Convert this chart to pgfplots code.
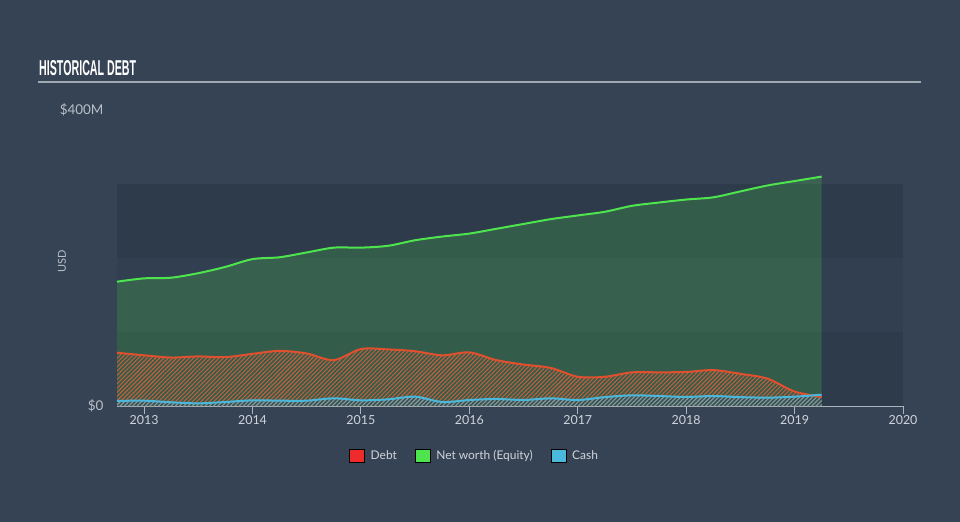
\documentclass[border=0pt]{standalone}
\usepackage{graphicx}
\usepackage{pgfplots}
\usepackage{pgfplotstable}
\pgfplotsset{compat=1.18}
\usepackage{fontspec}
\setmainfont{Lato}
\newfontfamily\titlefont{Liberation Sans}
\usetikzlibrary{patterns.meta}
\definecolor{bg}{HTML}{354354}
\definecolor{banddark}{HTML}{2E3B4B}
\definecolor{bandmid}{HTML}{323F50}
\definecolor{axiscol}{HTML}{AAB4BE}
\definecolor{ticktext}{HTML}{D0D4DA}
\definecolor{ylabtext}{HTML}{BAC0C8}
\definecolor{nwgreen}{HTML}{4EE44E}
\definecolor{debtline}{HTML}{E0502E}
\definecolor{debthatch}{HTML}{C0603C}
\definecolor{cashline}{HTML}{4AB8DC}
\definecolor{cashhatch}{HTML}{7A9AAA}
\definecolor{legred}{HTML}{EE2A2A}
\definecolor{leggreen}{HTML}{4EE44E}
\definecolor{legblue}{HTML}{4AB9DD}
\definecolor{titleline}{HTML}{A0A8B0}

\pgfplotstableread{
t nw debt cash
2012.75 168 72 6.8
2013.00 172.5 68.5 7.2
2013.25 173.4 65.5 5.0
2013.50 179.5 67 3.6
2013.75 188 66 5.4
2014.00 198.5 70.5 7.7
2014.25 201 74.5 7.2
2014.50 207.5 71 7.2
2014.75 214 62 10.4
2015.00 214 77 7.7
2015.25 216.5 76.5 9.0
2015.50 224 74 12.6
2015.75 229 68.5 5.4
2016.00 233 72.5 8.1
2016.25 239.5 62 9.5
2016.50 246 56 8.1
2016.75 252.5 51.5 10.4
2017.00 257.5 39.5 8.1
2017.25 262.5 39.5 12
2017.50 270.5 45.5 14.4
2017.75 275 45.5 13.5
2018.00 279 46 12.2
2018.25 282 48.5 13.5
2018.50 290 43.5 12
2018.75 298 37 11.3
2019.00 304 19.5 12.6
2019.25 310 12.2 15.3
}\data

\begin{document}
\begin{tikzpicture}
\fill[bg] (-117bp,-116bp) rectangle (843bp,406bp);
\begin{axis}[
  at={(0,0)}, anchor=south west, scale only axis,
  width=786bp, height=296bp,
  xmin=2012.75, xmax=2020, ymin=0, ymax=400,
  axis x line=bottom, axis y line=left,
  x axis line style={draw=axiscol, line width=1bp, -},
  y axis line style={draw=none},
  xtick={2013,2014,2015,2016,2017,2018,2019,2020},
  ytick={0,400}, yticklabels={\$0,\$400M},
  tick align=outside, major tick length=8bp,
  xtick style={draw=axiscol, line width=1bp},
  ytick style={draw=none},
  xticklabel style={font=\fontsize{12.5}{14}\selectfont, text=ticktext, yshift=2bp,
    /pgf/number format/1000 sep=, /pgf/number format/assume math mode=true},
  yticklabel style={font=\fontsize{13.5}{15}\selectfont, text=ylabtext, anchor=east, xshift=-2bp},
  ylabel={USD},
  ylabel style={at={(axis description cs:-0.07,0.49)}, anchor=center,
    font=\fontsize{11}{13}\selectfont, text=ylabtext},
  legend style={at={(axis description cs:0.455,-0.169)}, anchor=center,
    draw=none, fill=none, legend columns=3,
    font=\fontsize{12}{14}\selectfont, text=ticktext,
    /tikz/every odd column/.append style={column sep=4bp},
    /tikz/every even column/.append style={column sep=16bp}},
  legend image code/.code={\fill[#1] (0bp,-6.5bp) rectangle (15bp,6.5bp);},
  clip=false,
]
% background bands
\fill[banddark] (axis cs:2012.75,0) rectangle (axis cs:2020,100);
\fill[bandmid] (axis cs:2012.75,100) rectangle (axis cs:2020,200);
\fill[banddark] (axis cs:2012.75,200) rectangle (axis cs:2020,300);

% net worth area
\addplot[forget plot, draw=none, fill=nwgreen, fill opacity=0.2, smooth]
  table[x=t, y=nw] {\data} \closedcycle;
% debt hatch
\addplot[forget plot, draw=none, smooth,
  pattern={Lines[angle=45, distance=3bp, line width=1.1bp]}, pattern color=debthatch]
  table[x=t, y=debt] {\data} \closedcycle;
% cash hatch
\addplot[forget plot, draw=none, smooth, fill=bg, fill opacity=0.3]
  table[x=t, y=cash] {\data} \closedcycle;
\addplot[forget plot, draw=none, smooth,
  pattern={Lines[angle=45, distance=3bp, line width=1.1bp]}, pattern color=cashhatch]
  table[x=t, y=cash] {\data} \closedcycle;
% lines
\addplot[forget plot, nwgreen, line width=2bp, smooth] table[x=t, y=nw] {\data};
\addplot[forget plot, debtline, line width=2bp, smooth] table[x=t, y=debt] {\data};
\addplot[forget plot, cashline, line width=2bp, smooth] table[x=t, y=cash] {\data};

\addlegendimage{fill=legred}
\addlegendentry{Debt}
\addlegendimage{fill=leggreen}
\addlegendentry{Net worth (Equity)}
\addlegendimage{fill=legblue}
\addlegendentry{Cash}
\end{axis}
% title
\node[anchor=base west, inner sep=0, text=white] at (-78bp,330bp)
  {\resizebox{97bp}{15bp}{\titlefont\bfseries HISTORICAL DEBT}};
\draw[titleline, line width=2bp] (-79bp,324bp) -- (804bp,324bp);
\pgfresetboundingbox
\path (-117bp,-116bp) rectangle (843bp,406bp);
\end{tikzpicture}
\end{document}
